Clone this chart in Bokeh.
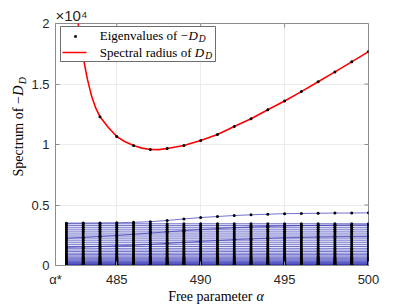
import math
from bokeh.plotting import figure
from bokeh.layouts import row, column
from bokeh.models import Range1d, FixedTicker, Label, BoxAnnotation
from bokeh.embed import file_html
from bokeh.resources import INLINE

# ---------------- data (values in units of 1e4) ----------------
alpha = list(range(482, 501))
alpha_star = 481.35
x_tick_values = [alpha_star, 485, 490, 495, 500]
x_tick_labels = ["α*", "485", "490", "495", "500"]
y_tick_values = [0, 0.5, 1, 1.5, 2]
y_tick_labels = ["0", "0.5", "1", "1.5", "2"]

# spectral radius curve (red)
radius_alpha = [482.6, 482.7, 482.85, 483.0, 483.25, 483.5, 483.75, 484.0, 484.5,
                485.0, 485.5, 486.0, 486.5, 487.0, 487.5, 488.0, 489.0, 490.0,
                491.0, 492.0, 493.0, 494.0, 495.0, 496.0, 497.0, 498.0, 499.0, 500.0]
radius_vals = [2.10, 2.00, 1.85, 1.72, 1.54, 1.40, 1.30, 1.23, 1.14,
               1.066, 1.022, 0.992, 0.970, 0.959, 0.958, 0.967, 0.992, 1.033,
               1.082, 1.148, 1.213, 1.287, 1.360, 1.437, 1.519, 1.600, 1.683, 1.768]

# largest eigenvalue at each alpha (first one is off the chart)
top_eig = [float("nan"), 1.72, 1.23, 1.066, 0.992, 0.959, 0.967, 0.992, 1.033, 1.082,
           1.148, 1.213, 1.287, 1.360, 1.437, 1.519, 1.600, 1.683, 1.768]
# second eigenvalue, which rises with alpha
rising_eig = [0.350, 0.351, 0.352, 0.353, 0.357, 0.362, 0.372, 0.385, 0.396, 0.405,
              0.413, 0.419, 0.424, 0.428, 0.430, 0.432, 0.433, 0.434, 0.435]
# two slowly rising eigenvalues inside the dense band
slant_eig_a = [0.225, 0.232, 0.240, 0.248, 0.258, 0.268, 0.278, 0.288, 0.297, 0.305,
               0.312, 0.318, 0.323, 0.327, 0.330, 0.332, 0.334, 0.335, 0.336]
slant_eig_b = [0.150, 0.153, 0.157, 0.162, 0.168, 0.175, 0.183, 0.191, 0.199, 0.207,
               0.214, 0.220, 0.225, 0.229, 0.232, 0.235, 0.237, 0.238, 0.239]
# eigenvalues that stay constant over alpha
flat_levels = [0.345, 0.331, 0.316, 0.300, 0.284, 0.268, 0.252, 0.236, 0.220, 0.204,
               0.188, 0.172, 0.157, 0.142, 0.128, 0.115, 0.102, 0.090, 0.079, 0.069,
               0.060, 0.052, 0.044, 0.037, 0.031, 0.025, 0.020, 0.015, 0.011, 0.008,
               0.005, 0.003, 0.0015, 0.0005]

# ---------------- layout ----------------
TOTAL_W, TOTAL_H = 407, 305
YL_W = 28                 # strip holding the y-axis label
XL_H = 16                 # strip holding the x-axis label
PW = TOTAL_W - YL_W
PH = TOTAL_H - XL_H
BL, BR, BT = 25, 39, 23
BB = PH - 267
FH = PH - BT - BB

AX = "#8c8c8c"
TXT = "#262626"
SERIF = "Liberation Serif"
SANS = "Liberation Sans"

p = figure(width=PW, height=PH, output_backend="svg", toolbar_location=None,
           x_range=Range1d(alpha_star, 500), y_range=Range1d(0, 2),
           min_border_left=BL, min_border_right=BR, min_border_top=BT,
           min_border_bottom=BB, background_fill_color="white",
           border_fill_color="white")
p.outline_line_color = AX
p.outline_line_width = 1

p.title.text = "×10⁴"
p.title.align = "left"
p.title.text_font = SANS
p.title.text_font_size = "15px"
p.title.text_font_style = "normal"
p.title.text_color = TXT
p.title.standoff = 0

p.xaxis.ticker = FixedTicker(ticks=x_tick_values)
p.xaxis.major_label_overrides = dict(zip(x_tick_values, x_tick_labels))
p.yaxis.ticker = FixedTicker(ticks=y_tick_values)
p.yaxis.major_label_overrides = dict(zip(y_tick_values, y_tick_labels))
for ax in (p.xaxis[0], p.yaxis[0]):
    ax.axis_line_color = AX
    ax.major_tick_line_color = AX
    ax.major_tick_in = 4
    ax.major_tick_out = 0
    ax.minor_tick_in = 0
    ax.minor_tick_out = 0
    ax.major_label_text_font = SANS
    ax.major_label_text_font_size = "13px"
    ax.major_label_text_color = TXT
    ax.major_label_standoff = 6

p.xgrid.ticker = FixedTicker(ticks=[485, 490, 495])
p.ygrid.ticker = FixedTicker(ticks=[0.5, 1, 1.5])
p.xgrid.grid_line_color = "#ebebeb"
p.ygrid.grid_line_color = "#ebebeb"

# ---------------- glyphs ----------------
series = [rising_eig, slant_eig_a, slant_eig_b] + [[lvl] * len(alpha) for lvl in flat_levels]
p.multi_line(xs=[alpha] * len(series), ys=series, line_color="#3535b8",
             line_alpha=0.7, line_width=1)
p.line(radius_alpha, radius_vals, line_color="#ff0000", line_width=1.6)

dot_x, dot_y = [], []
for s in series + [top_eig]:
    for a, v in zip(alpha, s):
        if not math.isnan(v):
            dot_x.append(a)
            dot_y.append(v)
p.scatter(dot_x, dot_y, marker="circle", size=3.0, fill_color="black",
          line_color="black", line_width=0)

# inward tick marks on the right and top edges of the box
p.ray(x=[500] * len(y_tick_values), y=y_tick_values, length=4, length_units="screen",
      angle=math.pi, line_color=AX, line_width=1)
p.ray(x=x_tick_values, y=[2] * len(x_tick_values), length=4, length_units="screen",
      angle=-math.pi / 2, line_color=AX, line_width=1)


def lab(fig, text, x, y, size, font=SERIF, style="normal", align="left",
        baseline="middle", angle=0.0, color="black"):
    fig.add_layout(Label(x=x, y=y, x_units="screen", y_units="screen", text=text,
                         text_font=font, text_font_size=f"{size}px",
                         text_font_style=style, text_align=align,
                         text_baseline=baseline, angle=angle, text_color=color))


def sbox(fig, left, right, top, bottom, **kw):
    fig.add_layout(BoxAnnotation(left=left, right=right, top=top, bottom=bottom,
                                 left_units="screen", right_units="screen",
                                 top_units="screen", bottom_units="screen", **kw))


# ---------------- legend ----------------
sbox(p, 5, 160, FH - 5, FH - 40, fill_color="white", fill_alpha=1.0,
     line_color="#6e6e6e", line_width=1, line_alpha=1.0)
sbox(p, 18.7, 21.3, FH - 13.7, FH - 16.3, fill_color="black", fill_alpha=1.0, line_alpha=0)
sbox(p, 7, 31, FH - 30.2, FH - 31.8, fill_color="#ff0000", fill_alpha=1.0, line_alpha=0)
lab(p, "Eigenvalues of −", 132.4, FH - 14, 13, align="right")
lab(p, "D", 132.9, FH - 14, 13, style="italic")
lab(p, "D", 143.3, FH - 17.5, 9.5, style="italic")
lab(p, "Spectral radius of", 136, FH - 31, 13, align="right")
lab(p, "D", 139.3, FH - 31, 13, style="italic")
lab(p, "D", 149.7, FH - 34.5, 9.5, style="italic")

# ---------------- y-axis label strip ----------------
yl = figure(width=YL_W, height=PH, output_backend="svg", toolbar_location=None,
            x_range=Range1d(0, 1), y_range=Range1d(0, 1),
            x_axis_location=None, y_axis_location=None,
            min_border_left=0, min_border_right=0, min_border_top=0,
            min_border_bottom=0, background_fill_color="white",
            border_fill_color="white")
yl.grid.visible = False
yl.outline_line_color = None
lab(yl, "Spectrum of −", 18, PH - 119.7, 14, align="right", angle=math.pi / 2)
lab(yl, "D", 18, PH - 119.2, 14, style="italic", angle=math.pi / 2)
lab(yl, "D", 22, PH - 107.8, 10, style="italic", angle=math.pi / 2)

# ---------------- x-axis label strip ----------------
xl = figure(width=TOTAL_W, height=XL_H, output_backend="svg", toolbar_location=None,
            x_range=Range1d(0, 1), y_range=Range1d(0, 1),
            x_axis_location=None, y_axis_location=None,
            min_border_left=0, min_border_right=0, min_border_top=0,
            min_border_bottom=0, background_fill_color="white",
            border_fill_color="white")
xl.grid.visible = False
xl.outline_line_color = None
lab(xl, "Free parameter", 252, XL_H - 7, 14, align="right")
lab(xl, "α", 256, XL_H - 7, 14, style="italic")

layout = column(row(yl, p), xl)
open("out.html", "w").write(file_html(layout, INLINE))
